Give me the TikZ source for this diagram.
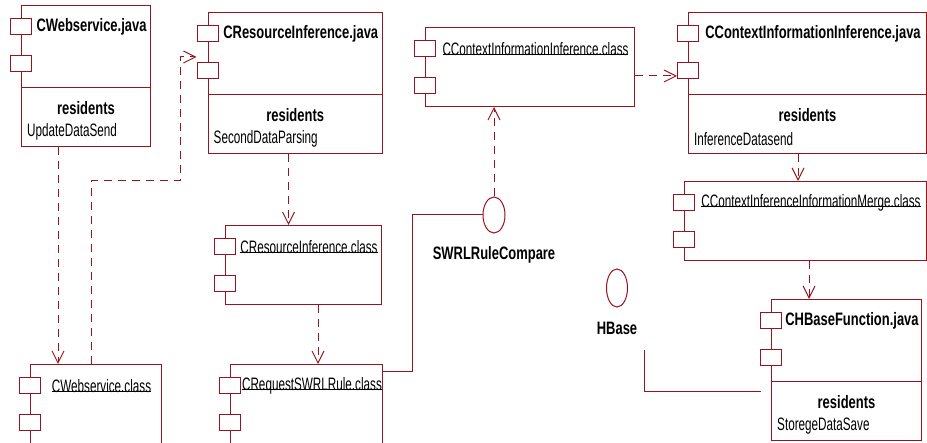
\documentclass[tikz,border=0pt]{standalone}
\usepackage{fontspec}
\setmainfont{Liberation Sans}[FakeStretch=0.65]
\newfontfamily\titlefont{Liberation Sans}[FakeStretch=0.72]
\usetikzlibrary{arrows.meta,shapes.geometric,calc}
\definecolor{umlred}{RGB}{150,20,30}
\newcommand\baseuline[1]{\setbox0\hbox{#1}\rlap{\color{black}\rule[0.6pt]{\wd0}{0.7pt}}\box0}
\tikzset{
  umlline/.style={draw=umlred, line width=1pt},
  comp/.style={umlline, fill=white, anchor=north west, inner sep=0pt},
  port/.style={umlline, fill=white, anchor=north west, inner sep=0pt,
    minimum width=21pt, minimum height=16.5pt},
  title/.style={font=\titlefont\bfseries\fontsize{18}{20}\selectfont, inner sep=0pt},
  member/.style={font=\fontsize{18}{20}\selectfont, inner sep=0pt},
  iface/.style={umlline, ellipse, inner sep=0pt},
  dep/.style={umlline, dash pattern=on 8pt off 6pt,
    -{Straight Barb[length=12pt,width=12pt]}}
}
\begin{document}
\begin{tikzpicture}[x=1pt,y=-1pt]
        \path[use as bounding box, clip] (0,0) rectangle (927,443);
        \fill[white] (0,0) rectangle (927,443);

        % name, x, y, width, height
        \def\umlcomp#1#2#3#4#5{%
          \node[comp, minimum width=#4pt, minimum height=#5pt] (#1) at (#2,#3) {};
          \node[port] (#1-p1) at ([xshift=-11pt,yshift=-13pt]#1.north west) {};
          \node[port] (#1-p2) at ([xshift=-11pt,yshift=-50pt]#1.north west) {};
        }
        % name, x, y, width, title, resident
        \def\javacomp#1#2#3#4#5#6{%
          \umlcomp{#1}{#2}{#3}{#4}{141}
          \draw[umlline] ([yshift=-83pt]#1.north west) -- ([yshift=-83pt]#1.north east);
          \node[title] (#1-t) at ($(#1-p1.east)!.5!(#1-p1.east -| #1.east)$) {#5};
          \node[title] (#1-r) at ([yshift=-103pt]#1.north) {residents};
          \node[member, anchor=west] (#1-m) at ([xshift=6pt,yshift=-127pt]#1.north west) {#6};
        }
        % name, x, y, width, height, title
        \def\classcomp#1#2#3#4#5#6{%
          \umlcomp{#1}{#2}{#3}{#4}{#5}
          \node[member] (#1-t) at ($(#1-p1.east)!.5!(#1-p1.east -| #1.east)$) {\baseuline{#6}};
        }

        \javacomp{wsjava}{21}{5}{129}{CWebservice.java}{UpdateDataSend}
        \javacomp{rinfjava}{207.5}{12}{174.5}{CResourceInference.java}{SecondDataParsing}
        \javacomp{cinfjava}{688}{12}{238}{CContextInformationInference.java}{InferenceDatasend}
        \javacomp{hbfunc}{771}{299}{150}{CHBaseFunction.java}{StoregeDataSave}
        \classcomp{cinfclass}{425}{27}{209}{79}{CContextInformationInference.class}
        \classcomp{mergeclass}{684}{181}{242}{79}{CContextInferenceInformationMerge.class}
        \classcomp{rinfclass}{225}{225}{156}{79}{CResourceInference.class}
        \classcomp{reqclass}{230}{364}{152}{100}{CRequestSWRLRule.class}
        \classcomp{wsclass}{30}{364}{131}{100}{CWebservice.class}

        % interfaces
        \node[iface, minimum width=22pt, minimum height=36pt,
          label={[title, label distance=13pt]below:SWRLRuleCompare}] (swrl) at (494,215) {};
        \node[iface, minimum width=21pt, minimum height=38pt,
          label={[title, label distance=14pt]below:HBase}] (hbase) at (617,288) {};
        \coordinate (hbfree) at (644,350);

        % dependencies
        \draw[dep] ([xshift=37pt]wsjava.south west) -- ([xshift=37pt]wsjava.south west |- wsclass.north);
        \draw[dep] ([xshift=61pt]wsclass.north west) |- (180,181) |- ([yshift=5pt]rinfjava-p2.north west);
        \draw[dep] ([xshift=81pt]rinfjava.south west) -- ([xshift=81pt]rinfjava.south west |- rinfclass.north);
        \draw[dep] ([xshift=93pt]rinfclass.south west) -- ([xshift=93pt]rinfclass.south west |- reqclass.north);
        \draw[dep] (swrl.north) -- (swrl.north |- cinfclass.south);
        \draw[dep] ([yshift=-49pt]cinfclass.north east) -- ([yshift=-49pt]cinfclass.north east -| cinfjava-p2.west);
        \draw[dep] ([xshift=110pt]cinfjava.south west) -- ([xshift=110pt]cinfjava.south west |- mergeclass.north);
        \draw[dep] ([xshift=125pt]mergeclass.south west) -- ([xshift=125pt]mergeclass.south west |- hbfunc.north);

        % realizations
        \draw[umlline] ([yshift=-8pt]reqclass.north east) -| ([xshift=-70pt]swrl.west) -- (swrl.west);
        \draw[umlline] (hbfree) |- ([xshift=-10pt,yshift=-93pt]hbfunc.north west);
\end{tikzpicture}
\end{document}
